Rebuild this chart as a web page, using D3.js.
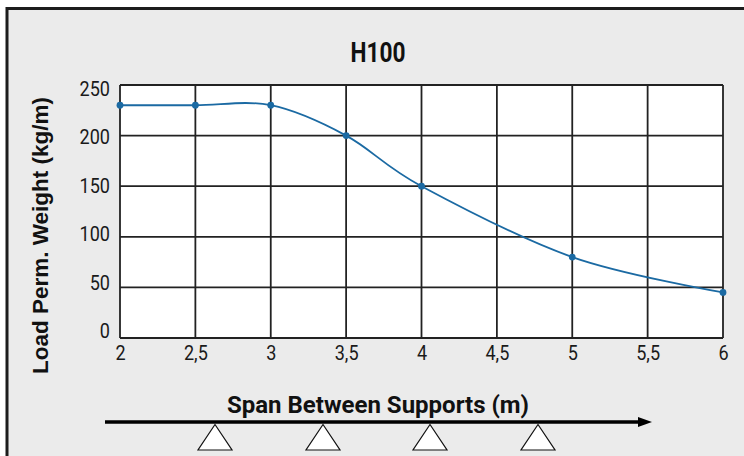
<!DOCTYPE html>
<html>
<head>
<meta charset="utf-8">
<script src="https://cdn.jsdelivr.net/npm/d3@7"></script>
<style>
  html, body { margin: 0; padding: 0; background: #ffffff; }
  svg { display: block; }
</style>
</head>
<body>
<svg id="chart" width="744" height="456"></svg>
<script>
// ---- data ----
const title = "H100";
const xLabel = "Span Between Supports (m)";
const yLabel = "Load Perm. Weight (kg/m)";
const spans = [2, 2.5, 3, 3.5, 4, 5, 6];
const loads = [230, 230, 230, 200, 150, 80, 45];
const xTicks = [2, 2.5, 3, 3.5, 4, 4.5, 5, 5.5, 6];
const yTicks = [0, 50, 100, 150, 200, 250];

// ---- layout ----
const W = 744, H = 456;
const plot = { left: 120, right: 723, top: 85, bottom: 338 };
const condensed = "scale(0.86,1)";
const svg = d3.select("#chart");

// background & frame
svg.append("rect").attr("x", 0).attr("y", 0).attr("width", W).attr("height", H).attr("fill", "#ffffff");
svg.append("rect").attr("x", 7).attr("y", 8.5).attr("width", W + 20).attr("height", H + 20)
  .attr("fill", "#ebebeb").attr("stroke", "#1c1c1c").attr("stroke-width", 3);

const x = d3.scaleLinear().domain([2, 6]).range([plot.left, plot.right]);
const y = d3.scaleLinear().domain([0, 250]).range([plot.bottom, plot.top]);
// label placement scale (labels sit slightly inside the grid extent in the reference)
const yLab = d3.scaleLinear().domain([0, 250]).range([330, 87.5]);

// plot area
svg.append("rect").attr("x", plot.left).attr("y", plot.top)
  .attr("width", plot.right - plot.left).attr("height", plot.bottom - plot.top)
  .attr("fill", "#ffffff");

// grid
const grid = svg.append("g").attr("stroke", "#222").attr("stroke-width", 1.8);
grid.selectAll("line.v").data(xTicks).join("line").attr("class", "v")
  .attr("x1", d => x(d)).attr("x2", d => x(d)).attr("y1", plot.top).attr("y2", plot.bottom);
grid.selectAll("line.h").data(yTicks).join("line").attr("class", "h")
  .attr("y1", d => y(d)).attr("y2", d => y(d)).attr("x1", plot.left).attr("x2", plot.right);

// x axis labels
const fmt = d => String(d).replace(".", ",");
const xAxis = d3.axisBottom(x).tickValues(xTicks).tickFormat(fmt).tickSize(0).tickPadding(0);
const gx = svg.append("g").attr("transform", `translate(0,${plot.bottom})`).call(xAxis);
gx.select(".domain").remove();
gx.selectAll("text").attr("y", 22).attr("dy", 0).attr("transform", condensed)
  .attr("font-family", "Roboto, sans-serif").attr("font-size", 21).attr("fill", "#1a1a1a");

// y axis labels
const yAxis = d3.axisLeft(yLab).tickValues(yTicks).tickSize(0).tickPadding(0);
const gy = svg.append("g").attr("transform", `translate(110,0)`).call(yAxis);
gy.select(".domain").remove();
gy.selectAll("text").attr("x", 0).attr("dy", "0.36em").attr("transform", condensed)
  .attr("font-family", "Roboto, sans-serif").attr("font-size", 21).attr("fill", "#1a1a1a");

// data line
const pts = spans.map((s, i) => [s, loads[i]]);
const line = d3.line().x(d => x(d[0])).y(d => y(d[1])).curve(d3.curveCardinal.tension(0));
svg.append("path").datum(pts).attr("d", line)
  .attr("fill", "none").attr("stroke", "#1b6aa3").attr("stroke-width", 1.8);
svg.selectAll("circle.pt").data(pts).join("circle").attr("class", "pt")
  .attr("cx", d => x(d[0])).attr("cy", d => y(d[1])).attr("r", 3.4).attr("fill", "#1b6aa3");

// title
svg.append("g").attr("transform", "translate(378,62)")
  .append("text").attr("text-anchor", "middle").attr("transform", "scale(0.84,1)")
  .attr("font-family", "Roboto, sans-serif").attr("font-weight", "bold").attr("font-size", 27)
  .attr("fill", "#111").text(title);

// y label
svg.append("text").attr("transform", "translate(48,235.5) rotate(-90)").attr("text-anchor", "middle")
  .attr("font-family", "'Liberation Sans', Arial, sans-serif").attr("font-weight", "bold").attr("font-size", 22.5)
  .attr("fill", "#111").text(yLabel);

// x label
svg.append("text").attr("x", 378).attr("y", 413).attr("text-anchor", "middle")
  .attr("font-family", "Roboto, sans-serif").attr("font-weight", "bold").attr("font-size", 24)
  .attr("fill", "#111").text(xLabel);

// arrow with supports
svg.append("line").attr("x1", 105).attr("x2", 642).attr("y1", 422).attr("y2", 422)
  .attr("stroke", "#000").attr("stroke-width", 3.5);
svg.append("path").attr("d", "M638,417 L652,422 L638,427 Z").attr("fill", "#000");
const supportsX = [215, 323, 430, 538];
svg.selectAll("path.sup").data(supportsX).join("path").attr("class", "sup")
  .attr("d", d => `M${d},424.5 L${d + 17},450 L${d - 17},450 Z`)
  .attr("fill", "#ffffff").attr("stroke", "#111").attr("stroke-width", 1.2);
</script>
</body>
</html>
